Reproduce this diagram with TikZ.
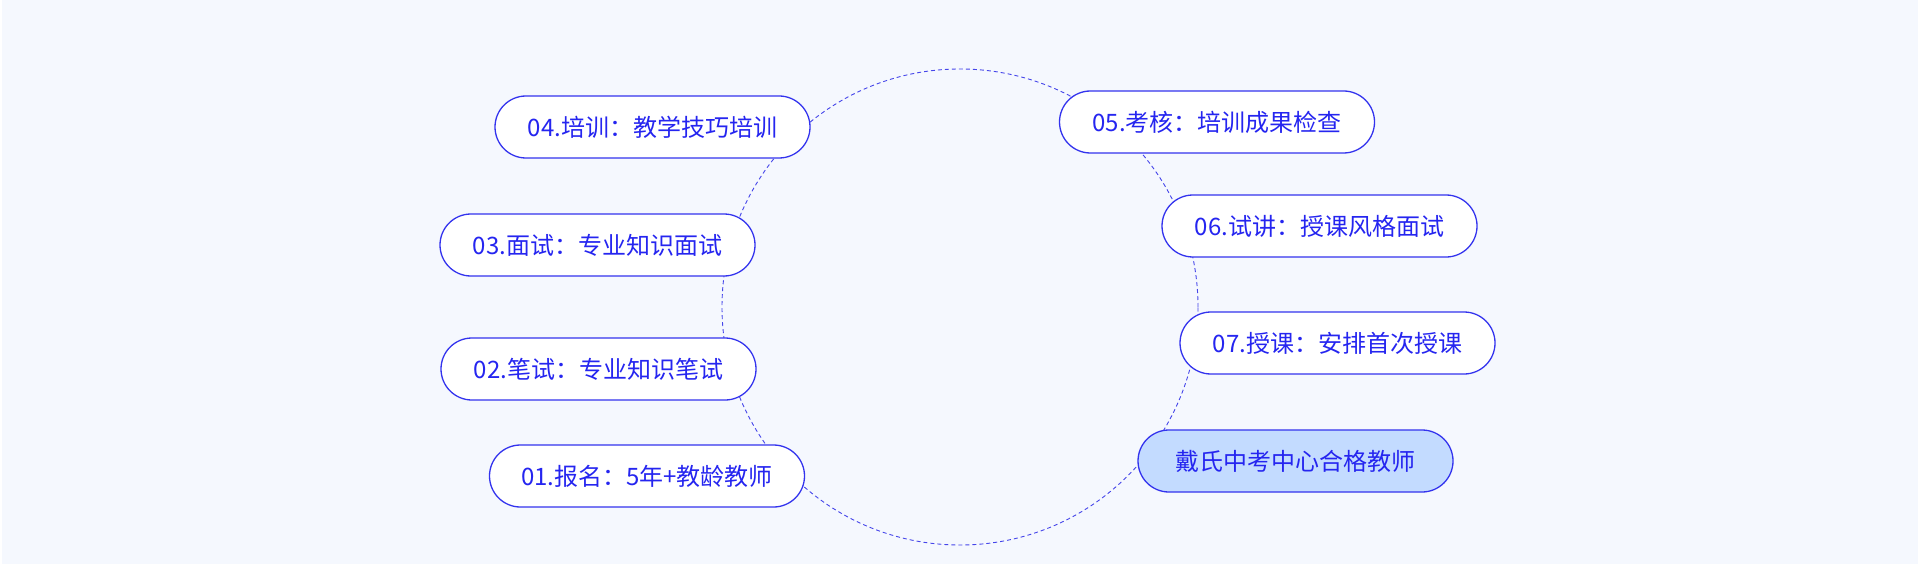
\documentclass[tikz,border=0pt]{standalone}
\usepackage{fontspec}
\setmainfont{Noto Sans CJK SC}
\definecolor{bgblue}{HTML}{F5F8FE}
\definecolor{pilltext}{HTML}{2525F0}
\definecolor{pillborder}{HTML}{3333EE}
\definecolor{ringc}{HTML}{4545EA}
\definecolor{finalfill}{HTML}{C3DBFF}
\begin{document}
\begin{tikzpicture}[x=1pt,y=-1pt,
  pill/.style={draw=pillborder, line width=1.3pt, fill=white, rounded corners=31pt,
    minimum width=315pt, minimum height=62pt, inner sep=0pt, text=pilltext,
    font=\fontsize{24}{29}\selectfont},
  finalpill/.style={pill, fill=finalfill},
  ring/.style={draw=ringc, line width=0.9pt, dash pattern=on 4pt off 3pt}]
\fill[white] (0,0) rectangle (1918,564);
\fill[bgblue] (2,0) rectangle (1918,564);
\useasboundingbox (0,0) rectangle (1918,564);
\coordinate (c) at (960,307);
\draw[ring] (c) circle (238pt);
\node[pill] (n04) at (652.5,127) {04.培训：教学技巧培训};
\node[pill] (n03) at (597.5,245) {03.面试：专业知识面试};
\node[pill] (n02) at (598.5,369) {02.笔试：专业知识笔试};
\node[pill] (n01) at (647,476) {01.报名：5年+教龄教师};
\node[pill] (n05) at (1217,122) {05.考核：培训成果检查};
\node[pill] (n06) at (1319.5,226) {06.试讲：授课风格面试};
\node[pill] (n07) at (1337.5,343) {07.授课：安排首次授课};
\node[finalpill] (nf) at (1295.5,461) {戴氏中考中心合格教师};
\end{tikzpicture}
\end{document}
